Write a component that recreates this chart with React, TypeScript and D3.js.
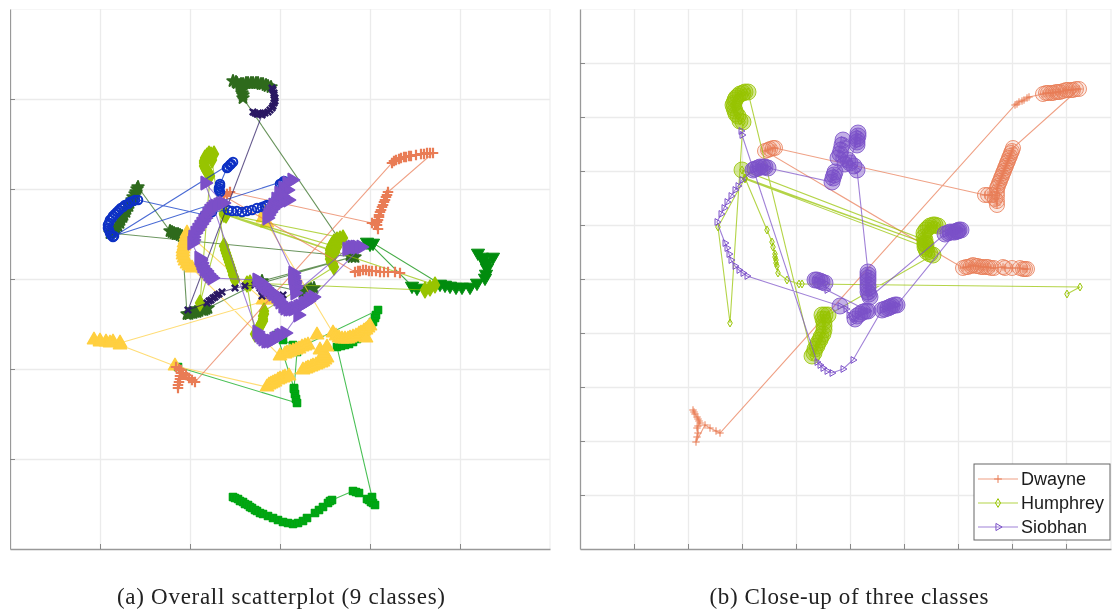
import { useEffect, useRef } from "react";
import * as d3 from "d3";

// [x, y, ring] - ring = 1 marks a high confidence frame (drawn with a big circle)
type Pt = [number, number, number?] | null;

const gridA = [90, 180, 270, 360, 450];
const gridB = [54, 108, 162, 216, 270, 324, 378, 432, 486];

const dwayneA: Pt[] = [
  [168, 379], [168, 376], [169, 373], [170, 370], [170, 367], [171, 364], [171, 361], [166, 358], [169, 360], [173, 364], [176, 366], [179, 369], [182, 371], [185, 373],
  [382, 154], [384, 152], [386, 151], [389, 150], [391, 149], [394, 148], [396, 148], [399, 147], [401, 147], [406, 146], [411, 145], [414, 145], [417, 144], [420, 144], [423, 144],
  [378, 183], [377, 186], [376, 188], [375, 191], [374, 193], [373, 196], [372, 198], [371, 201], [370, 203], [369, 206], [369, 208], [368, 211], [367, 213], [367, 216], [368, 220], [365, 215], [362, 214],
  [220, 183], [217, 185], [214, 187],
  [345, 263], [348, 262], [350, 262], [353, 261], [356, 261], [359, 262], [362, 262], [366, 262], [370, 263], [374, 263], [378, 263], [385, 263], [390, 264],
];
const darkGreenA: Pt[] = [
  [261, 78], [258, 77], [256, 76], [253, 75], [251, 75], [248, 74], [246, 74], [243, 74], [241, 74], [238, 74], [236, 74], [233, 75], [231, 75], [226, 73], [223, 72], [227, 74], [230, 76], [231, 79], [232, 81], [232, 84], [233, 86], [233, 89],
  [340, 246], [342, 247], [345, 248],
  [100, 224], [102, 223], [104, 222], [106, 219], [108, 217], [110, 214], [111, 211], [113, 208], [114, 206], [116, 203], [117, 200], [119, 197], [120, 194], [122, 191], [123, 188], [125, 185], [126, 183], [127, 180], [128, 178],
  [160, 222], [162, 223], [164, 224], [166, 225], [168, 225], [170, 226], [172, 227],
  [177, 305], [179, 305], [181, 304], [183, 304], [185, 303], [187, 303], [189, 302], [192, 301], [194, 301], [196, 300], [198, 299],
  [252, 272], [342, 248], [252, 274],
  [293, 283], [295, 283], [297, 282], [299, 281], [301, 280], [304, 279],
];
const darkPurpleA: Pt[] = [
  [262, 79], [263, 81], [264, 84], [264, 86], [265, 89], [265, 92], [264, 94], [263, 97], [262, 99], [260, 101], [258, 103], [255, 104], [253, 104], [250, 105], [248, 105], [245, 104], [243, 103], [247, 105], [252, 106],
  [178, 301],
  [197, 294], [199, 292], [201, 291], [203, 289], [205, 288], [207, 286], [209, 285], [212, 283], [225, 279], [235, 277], [245, 276],
  [250, 279], [252, 281], [255, 283], [252, 287], [255, 285], [258, 279], [259, 282], [260, 284], [263, 286], [265, 288], [273, 286],
];
const blueA: Pt[] = [
  [210, 183], [209, 181], [209, 179], [210, 177], [210, 175], [217, 159], [218, 158], [220, 156], [221, 155], [223, 153],
  [103, 228], [101, 226], [100, 224], [99, 221], [98, 219], [98, 216], [99, 214], [100, 211], [102, 209], [103, 207], [105, 205], [107, 203], [109, 201], [111, 199], [113, 198], [115, 196], [118, 195], [120, 193], [123, 192], [125, 191], [128, 191],
  [195, 206], [197, 205], [198, 204], [200, 203], [202, 203],
  [218, 201], [222, 202], [227, 202], [232, 203], [237, 202], [242, 201], [247, 199], [252, 198], [255, 197], [257, 196],
  [270, 175], [272, 174], [274, 172], [104, 227],
];
const limeA: Pt[] = [
  [225, 271], [224, 268], [223, 266], [222, 262], [221, 259], [220, 256], [219, 253], [218, 250], [217, 247], [216, 244], [215, 241], [214, 237],
  [202, 151], [204, 145], [201, 146], [199, 145], [197, 147], [195, 149], [194, 152], [194, 154], [194, 157], [195, 159], [196, 161], [198, 163], [199, 165], [200, 167],
  [190, 294], [214, 205],
  [333, 229], [330, 230], [327, 231], [324, 233], [322, 236], [321, 238], [320, 241], [320, 244], [320, 247], [320, 250], [321, 253], [323, 255], [324, 258],
  [254, 302], [254, 305], [253, 307], [253, 310], [253, 312], [251, 315], [250, 317], [249, 319], [248, 321], [245, 325],
  [237, 275], [240, 274],
  [415, 281], [420, 279], [425, 276],
  [214, 205], [327, 238], [216, 206], [325, 243],
];
const purpleA: Pt[] = [
  [282, 171], [277, 174], [273, 179], [277, 181], [269, 184], [272, 187], [266, 190], [278, 191], [273, 192], [271, 194], [266, 196], [263, 196], [262, 200], [260, 203], [258, 206], [257, 209],
  [283, 264], [283, 267], [283, 269], [284, 272], [284, 274], [285, 277], [285, 279], [285, 284],
  [337, 240], [340, 239], [342, 238], [345, 238], [347, 238], [351, 238],
  [303, 288], [300, 290], [298, 292], [295, 294], [293, 295], [290, 297], [288, 298], [285, 299], [283, 300], [280, 300], [278, 300], [275, 299], [273, 297], [270, 293], [268, 290], [266, 287], [263, 285], [261, 283], [258, 281], [256, 279], [254, 277], [252, 275], [250, 273], [247, 271],
  [202, 269], [200, 267], [198, 265], [196, 262], [194, 260], [192, 257], [191, 254], [190, 251], [189, 249],
  [182, 234], [183, 231], [183, 228], [185, 224], [187, 221], [189, 218], [191, 215], [193, 212], [195, 209], [197, 205], [199, 202], [201, 200], [203, 198], [205, 197], [208, 196], [210, 195], [213, 194],
  [195, 174],
  [247, 323], [249, 326], [251, 328], [253, 330], [256, 332], [258, 332], [261, 332], [264, 330], [266, 329], [269, 327], [271, 326], [275, 324], [288, 306],
];
const yellowA: Pt[] = [
  [255, 203], [253, 209], [257, 214],
  [323, 324], [326, 327], [329, 329], [332, 330], [335, 330], [338, 330], [340, 329], [343, 328], [346, 327], [349, 325], [351, 324], [354, 322], [356, 321], [358, 319], [360, 317], [356, 329],
  [307, 326], [298, 336], [295, 337], [292, 338], [289, 340], [286, 341], [283, 342], [280, 343], [277, 344], [275, 345], [270, 347],
  [182, 259], [179, 257], [177, 255], [175, 252], [174, 249], [173, 246], [173, 243], [173, 240], [174, 237], [174, 234], [175, 231], [176, 227], [177, 224],
  [253, 291], [258, 291],
  [110, 334], [103, 333], [96, 333], [90, 332], [84, 331], [90, 333], [100, 334], [110, 336],
  [165, 357],
  [257, 378], [259, 376], [261, 375], [263, 374], [265, 373], [268, 371], [270, 370], [273, 369], [275, 368], [279, 367],
  [293, 361], [296, 360], [298, 359], [301, 358], [303, 357], [306, 356], [308, 355], [311, 354], [313, 353], [315, 351], [317, 349], [315, 346], [314, 344], [310, 341], [317, 338],
];
const greenA: Pt[] = [
  [223, 488], [225, 489], [228, 490], [230, 492], [233, 493], [235, 495], [238, 496], [240, 498], [242, 499], [245, 501], [247, 502], [250, 504], [253, 505], [258, 507], [263, 509], [268, 511], [273, 513], [278, 514], [283, 515], [288, 514], [293, 512], [297, 509],
  [305, 504], [309, 501], [313, 498], [318, 494], [320, 492], [322, 491],
  [343, 482], [346, 483], [349, 484], [357, 490], [359, 491], [361, 493], [363, 494], [365, 496], [362, 488],
  [327, 338], [331, 337], [335, 336], [339, 335], [343, 333], [347, 330], [350, 328], [353, 326], [355, 324], [357, 321], [359, 318], [361, 316], [363, 313], [365, 309], [366, 306], [368, 301],
  [293, 337], [288, 338], [287, 343],
  [284, 380], [285, 385], [286, 390], [287, 394],
  [168, 358], null,
  [284, 379], [267, 326], [273, 331], [283, 336],
];
const darkTriA: Pt[] = [
  [407, 279], [402, 277], [360, 235], [357, 233], [363, 234],
  [430, 275], [435, 276], [440, 277], [446, 278], [452, 278], [460, 278], [467, 274],
  [475, 269], [476, 265], [477, 259], [476, 256], [475, 253], [473, 250], [472, 248], [468, 244], [483, 248],
];

const dwayneB: Pt[] = [
  [113, 401], [114, 403], [115, 405], [117, 408], [118, 410], [119, 412], [120, 414], [118, 417], [117, 419], [118, 424], [117, 428], [116, 433], [125, 416], [130, 419], [136, 422], [140, 424],
  [435, 96], [437, 95], [439, 93], [442, 92], [444, 91], [447, 89], [449, 88],
  [463, 85, 1], [466, 84, 1], [468, 84, 1], [471, 84, 1], [473, 84, 1], [476, 83, 1], [478, 83, 1], [480, 83, 1], [483, 82, 1], [486, 81, 1], [488, 81, 1], [491, 81, 1], [493, 81, 1], [496, 80, 1], [499, 80, 1],
  [433, 139, 1], [432, 142, 1], [431, 144, 1], [430, 147, 1], [429, 149, 1], [428, 152, 1], [427, 154, 1], [426, 157, 1], [425, 159, 1], [424, 162, 1], [423, 164, 1], [422, 167, 1], [421, 169, 1], [420, 172, 1], [419, 174, 1], [418, 177, 1], [417, 179, 1], [417, 183, 1], [417, 187, 1], [417, 192, 1], [417, 196, 1], [415, 190, 1], [412, 186, 1], [408, 186, 1], [405, 186, 1],
  [195, 139, 1], [193, 139, 1], [190, 140, 1], [188, 141, 1], [185, 142, 1],
  [383, 259, 1], [386, 258, 1], [388, 258, 1], [391, 257, 1], [393, 256, 1], [396, 257, 1], [398, 257, 1], [401, 258, 1], [403, 258, 1], [406, 258, 1], [408, 258, 1], [411, 259, 1], [414, 259, 1], [423, 258, 1], [425, 259, 1], [432, 259, 1], [440, 259, 1], [443, 260, 1], [445, 260, 1], [447, 260, 1],
];
const humphreyB: Pt[] = [
  [487, 285], [500, 278], [222, 275], [219, 275], [207, 271], [198, 264], [197, 257], [196, 254], [196, 251], [195, 248], [195, 245], [193, 238], [192, 233], [187, 221],
  [165, 169], [162, 161, 1],
  [345, 231, 1], [344, 228, 1], [344, 224, 1], [346, 221, 1], [348, 219, 1], [350, 217, 1], [353, 216, 1], [355, 216, 1], [358, 217, 1], [345, 235, 1], [346, 236, 1], [346, 240, 1], [347, 243, 1], [350, 245, 1], [353, 246, 1],
  [248, 306, 1], [245, 306, 1], [242, 306, 1], [243, 310, 1], [244, 313, 1], [244, 317, 1], [244, 321, 1], [243, 325, 1], [241, 328, 1], [240, 331, 1], [238, 334, 1], [237, 337, 1], [235, 340, 1], [234, 344, 1], [232, 347, 1],
  [168, 83, 1], [165, 83, 1], [163, 84, 1], [160, 85, 1], [158, 87, 1], [156, 89, 1], [155, 91, 1], [154, 94, 1], [153, 96, 1], [154, 99, 1], [155, 102, 1], [156, 105, 1], [158, 107, 1], [160, 112, 1], [163, 113, 1],
  [150, 314], [138, 218], [165, 169], [345, 234, 1], [165, 170], [345, 238, 1],
];
const siobhanB: Pt[] = [
  [161, 122], [162, 126], [237, 353], [240, 356], [243, 359], [247, 362], [252, 364], [263, 360], [273, 351],
  [302, 301, 1], [305, 300, 1], [308, 299, 1], [310, 298, 1], [312, 297, 1], [315, 296, 1], [317, 296, 1],
  [377, 222, 1], [379, 221, 1], [381, 221, 1], [378, 222, 1], [375, 223, 1], [373, 223, 1], [370, 223, 1], [368, 224, 1], [365, 225, 1],
  [290, 288, 1], [289, 285, 1], [288, 283, 1], [288, 279, 1], [288, 276, 1], [288, 272, 1], [288, 269, 1], [288, 266, 1], [288, 263, 1],
  [277, 161, 1], [274, 157, 1], [270, 154, 1], [278, 124, 1], [278, 127, 1], [277, 130, 1], [277, 133, 1], [277, 136, 1], [263, 131, 1], [262, 136, 1], [261, 141, 1], [260, 145, 1], [258, 149, 1], [265, 155, 1], [268, 151, 1], [255, 163, 1], [254, 166, 1], [253, 169, 1], [252, 173, 1],
  [188, 159, 1], [185, 158, 1], [183, 158, 1], [180, 158, 1], [178, 159, 1], [175, 160, 1], [173, 161, 1],
  [162, 171], [158, 177], [155, 181], [151, 187], [147, 193], [144, 199], [141, 205], [137, 213],
  [145, 234], [147, 239], [149, 245], [151, 251], [155, 257], [159, 261], [163, 264], [167, 267],
  [260, 297, 1], [266, 300], [269, 306], [273, 313], [275, 310, 1], [277, 307, 1], [280, 305, 1], [283, 303, 1], [286, 302, 1], [288, 302, 1],
  [247, 281], [245, 274, 1], [242, 273, 1], [240, 272, 1], [237, 271, 1], [235, 271, 1],
];

const legendNames = ["Dwayne", "Humphrey", "Siobhan"];

const ORANGE = "#e97c55";
const LIME = "#97c400";
const PURPLE = "#7b50c8";

type Series = { pts: Pt[]; color: string; type: d3.SymbolType; size: number; rot?: number; open?: boolean; sw?: number; ringFill?: number; ringR?: number };

const seriesA: Series[] = [
  { pts: darkGreenA, color: "#2f6b1f", type: d3.symbolStar, size: 40, sw: 2 },
  { pts: darkTriA, color: "#008c0a", type: d3.symbolTriangle, size: 75, rot: 180, sw: 1 },
  { pts: greenA, color: "#00a612", type: d3.symbolSquare, size: 50, sw: 1.5 },
  { pts: yellowA, color: "#ffcf3f", type: d3.symbolTriangle, size: 75, sw: 1.5 },
  { pts: limeA, color: LIME, type: d3.symbolDiamond, size: 70, sw: 1.5 },
  { pts: dwayneA, color: ORANGE, type: d3.symbolPlus, size: 38, open: true, sw: 2.2 },
  { pts: blueA, color: "#0a30c4", type: d3.symbolCircle, size: 58, open: true, sw: 2 },
  { pts: darkPurpleA, color: "#2b1a63", type: d3.symbolTimes, size: 28, open: true, sw: 2.4 },
  { pts: purpleA, color: PURPLE, type: d3.symbolTriangle, size: 70, rot: 90, sw: 2 },
];
const seriesB: Series[] = [
  { pts: dwayneB, color: ORANGE, type: d3.symbolPlus, size: 20, open: true, sw: 1, ringFill: 0.16, ringR: 7.5 },
  { pts: humphreyB, color: LIME, type: d3.symbolDiamond, size: 18, open: true, sw: 1, ringFill: 0.4, ringR: 8 },
  { pts: siobhanB, color: PURPLE, type: d3.symbolTriangle, size: 20, rot: 90, open: true, sw: 1, ringFill: 0.45, ringR: 8 },
];

function drawPanel(
  g: d3.Selection<SVGGElement, unknown, null, undefined>,
  series: Series[],
  left: number,
  right: number,
  domainMax: number,
  ticks: number[],
  fineMarks: boolean
) {
  const x = d3.scaleLinear().domain([0, domainMax]).range([left, right]);
  const y = d3.scaleLinear().domain([0, 540]).range([9, 549]);

  // frame and grid
  g.append("path").attr("d", `M${left},9H${right}V549`).attr("fill", "none").attr("stroke", "#eeeeee").attr("stroke-width", 1.2);
  const gx = g.append("g").attr("transform", "translate(0,549)").call(d3.axisBottom(x).tickValues(ticks).tickSize(-540).tickFormat(() => ""));
  const gy = g.append("g").attr("transform", `translate(${left},0)`).call(d3.axisLeft(y).tickValues(ticks).tickSize(-(right - left)).tickFormat(() => ""));
  [gx, gy].forEach((a) => {
    a.select(".domain").remove();
    a.selectAll("line").attr("stroke", "#ebebeb").attr("stroke-width", 1.3);
  });
  const ax = g.append("g").attr("transform", "translate(0,549)").call(d3.axisBottom(x).tickValues(ticks).tickSize(-5).tickSizeOuter(0).tickFormat(() => ""));
  const ay = g.append("g").attr("transform", `translate(${left},0)`).call(d3.axisLeft(y).tickValues(ticks).tickSize(-5).tickSizeOuter(0).tickFormat(() => ""));
  [ax, ay].forEach((a) => {
    a.selectAll("line").attr("stroke", "#888").attr("stroke-width", 1);
    a.select(".domain").attr("stroke", "#999").attr("stroke-width", 1.3);
  });

  const line = d3
    .line<Pt>()
    .defined((d) => d !== null)
    .x((d) => x(d![0]))
    .y((d) => y(d![1]));

  series.forEach((s) => {
    const pts = s.pts.filter((d) => d !== null) as [number, number, number?][];
    const sg = g.append("g");
    sg.append("path").attr("d", line(s.pts)).attr("fill", "none").attr("stroke", s.color).attr("stroke-opacity", 0.72).attr("stroke-width", 1.1);
    const sym = d3.symbol().type(s.type).size(s.size);
    sg.selectAll("path.m")
      .data(pts)
      .join("path")
      .attr("class", "m")
      .attr("d", sym() as string)
      .attr("transform", (d) => `translate(${x(d[0])},${y(d[1])}) rotate(${s.rot ?? 0})`)
      .attr("fill", s.open ? "none" : s.color)
      .attr("stroke", s.color)
      .attr("stroke-linejoin", "round")
      .attr("stroke-width", s.sw ?? 1);
    if (fineMarks) {
      sg.selectAll("circle")
        .data(pts.filter((d) => d[2]))
        .join("circle")
        .attr("cx", (d) => x(d[0]))
        .attr("cy", (d) => y(d[1]))
        .attr("r", s.ringR ?? 7.5)
        .attr("fill", s.color)
        .attr("fill-opacity", s.ringFill ?? 0.2)
        .attr("stroke", s.color)
        .attr("stroke-opacity", 0.8)
        .attr("stroke-width", 1);
    }
  });
}

export default function App() {
  const ref = useRef<SVGGElement | null>(null);

  useEffect(() => {
    const root = d3.select(ref.current!);
    root.selectAll("*").remove();
    drawPanel(root.append("g"), seriesA, 10, 550, 540, gridA, false);
    drawPanel(root.append("g"), seriesB, 580, 1111, 531, gridB, true);

    // legend sits on top of the right panel
    const lg = root.append("g");
    lg.append("rect").attr("x", 974).attr("y", 464).attr("width", 136).attr("height", 76).attr("fill", "#fff").attr("stroke", "#666").attr("stroke-width", 1);
    const rowY = d3.scalePoint<string>().domain(legendNames).range([479, 527]);
    const rowSym = [d3.symbolPlus, d3.symbolDiamond, d3.symbolTriangle];
    const rowColor = [ORANGE, LIME, PURPLE];
    legendNames.forEach((name, i) => {
      const yy = rowY(name)!;
      lg.append("line").attr("x1", 978).attr("x2", 1018).attr("y1", yy).attr("y2", yy).attr("stroke", rowColor[i]).attr("stroke-opacity", 0.72);
      lg.append("path")
        .attr("d", d3.symbol().type(rowSym[i]).size(22)() as string)
        .attr("transform", `translate(998,${yy}) rotate(${i === 2 ? 90 : 0})`)
        .attr("fill", "none")
        .attr("stroke", rowColor[i]);
      lg.append("text").attr("x", 1021).attr("y", yy + 6).attr("font-family", "Liberation Sans").attr("font-size", 18).attr("fill", "#1a1a1a").text(name);
    });
  }, []);

  return (
    <svg width={1113} height={610} style={{ position: "absolute", left: 0, top: 0, background: "#fff" }}>
      <defs>
        <filter id="soft" x="0" y="0" width="100%" height="100%">
          <feGaussianBlur stdDeviation="0.45" />
        </filter>
      </defs>
      <g filter="url(#soft)">
        <g ref={ref} />
        <text x={281} y={604} textAnchor="middle" fontFamily="Liberation Serif" fontSize={23} textLength={328} fill="#222">
          (a) Overall scatterplot (9 classes)
        </text>
        <text x={849} y={604} textAnchor="middle" fontFamily="Liberation Serif" fontSize={23} textLength={279} fill="#222">
          (b) Close-up of three classes
        </text>
      </g>
    </svg>
  );
}
